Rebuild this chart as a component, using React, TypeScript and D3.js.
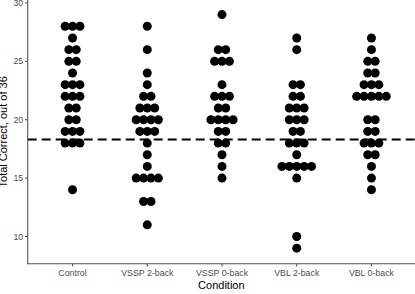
import React from "react";
import * as d3 from "d3";

const categories = ["Control", "VSSP 2-back", "VSSP 0-back", "VBL 2-back", "VBL 0-back"];

const controlScores = [28, 28, 28, 27, 26, 26, 25, 25, 24, 23, 23, 23, 22, 22, 22, 21, 21, 20, 20, 19, 19, 19, 18, 18, 18, 14];
const vssp2Scores = [28, 26, 24, 23, 22, 22, 21, 21, 21, 20, 20, 20, 20, 19, 19, 19, 18, 17, 16, 15, 15, 15, 15, 13, 13, 11];
const vssp0Scores = [29, 26, 26, 25, 25, 25, 23, 22, 22, 22, 21, 21, 20, 20, 20, 20, 19, 19, 18, 18, 17, 16, 15];
const vbl2Scores = [27, 26, 23, 23, 22, 22, 21, 21, 21, 20, 20, 20, 19, 19, 18, 18, 18, 17, 16, 16, 16, 16, 16, 15, 10, 9];
const vbl0Scores = [27, 26, 25, 25, 24, 24, 23, 23, 23, 22, 22, 22, 22, 22, 20, 20, 19, 19, 18, 18, 18, 17, 17, 16, 15, 14];

const seriesScores = [controlScores, vssp2Scores, vssp0Scores, vbl2Scores, vbl0Scores];
const yTicks = [10, 15, 20, 25, 30];
const referenceLine = 18.3;

const W = 415;
const H = 294;

export default function App() {
  const left = 27.7;
  const right = 416.3;
  const top = 0;
  const bottom = 263.7;

  const x = d3.scalePoint<string>().domain(categories).range([left, right]).padding(0.6);
  const y = d3.scaleLinear().domain([7.67, 30.25]).range([bottom, top]);

  const spacing = 7.4;
  const r = 4.5;

  const dots: { cx: number; cy: number; key: string }[] = [];
  categories.forEach((c, ci) => {
    const groups = d3.group(seriesScores[ci], (v) => v);
    groups.forEach((vals, v) => {
      const n = vals.length;
      vals.forEach((_, i) => {
        dots.push({
          cx: (x(c) as number) + (i - (n - 1) / 2) * spacing,
          cy: y(v),
          key: `${ci}-${v}-${i}`,
        });
      });
    });
  });

  const axisColor = "#555";
  const tickText = "#4d4d4d";
  const font = "'Liberation Sans', Arial, sans-serif";

  return (
    <svg width={W} height={H} style={{ position: "absolute", left: 0, top: 0 }} fontFamily={font}>
      <rect width={W} height={H} fill="white" />
      {/* dots */}
      {dots.map((d) => (
        <circle key={d.key} cx={d.cx} cy={d.cy} r={r} fill="black" />
      ))}
      {/* reference line */}
      <line
        x1={left}
        x2={W}
        y1={y(referenceLine)}
        y2={y(referenceLine)}
        stroke="black"
        strokeWidth={1.9}
        strokeDasharray="9,5"
      />
      {/* axes */}
      <line x1={left} x2={left} y1={top} y2={bottom + 0.5} stroke={axisColor} strokeWidth={1.1} />
      <line x1={left - 0.5} x2={W} y1={bottom} y2={bottom} stroke={axisColor} strokeWidth={1.1} />
      {yTicks.map((t) => (
        <g key={t}>
          <line x1={left - 2.7} x2={left} y1={y(t)} y2={y(t)} stroke={axisColor} strokeWidth={1.1} />
          <text x={left - 4.5} y={y(t)} dy="0.35em" textAnchor="end" fontSize={8.8} fill={tickText}>
            {t}
          </text>
        </g>
      ))}
      {categories.map((c) => (
        <g key={c}>
          <line x1={x(c)} x2={x(c)} y1={bottom} y2={bottom + 2.7} stroke={axisColor} strokeWidth={1.1} />
          <text x={x(c)} y={bottom + 12} textAnchor="middle" fontSize={8.8} fill={tickText}>
            {c}
          </text>
        </g>
      ))}
      <text x={(left + W) / 2} y={289} textAnchor="middle" fontSize={11} fill="black">
        Condition
      </text>
      <text
        transform={`translate(6.8, ${(top + bottom) / 2}) rotate(-90)`}
        textAnchor="middle"
        fontSize={11}
        fill="black"
      >
        Total Correct, out of 36
      </text>
    </svg>
  );
}
